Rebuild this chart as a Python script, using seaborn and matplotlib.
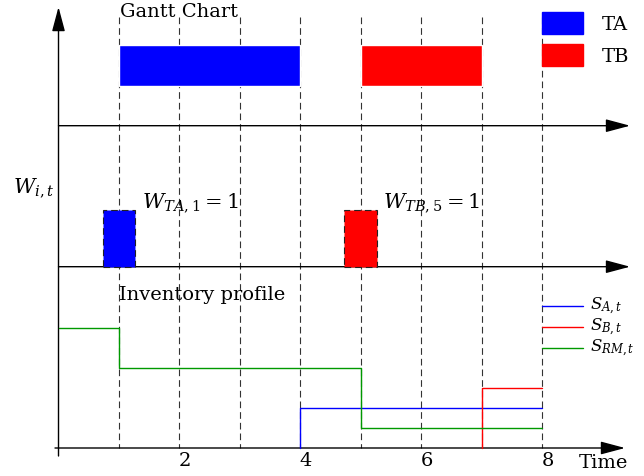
import numpy as np
import pandas as pd
import matplotlib
matplotlib.use("Agg")
import matplotlib.pyplot as plt
from matplotlib.patches import Rectangle
import seaborn as sns

# Gantt schedule
tasks = ["TA", "TB"]
task_start = [1, 5]
task_end = [4, 7]
task_colors = ["blue", "red"]

# batch start indicator W_{i,t}
w_time = [1, 5]
w_value = [1, 1]
w_labels = [r"$W_{TA,1} = 1$", r"$W_{TB,5} = 1$"]

# inventory profiles (step changes: time, level)
inv_series = [r"$S_{A,t}$", r"$S_{B,t}$", r"$S_{RM,t}$"]
inv_time = [[4, 4, 8], [7, 7, 8], [0, 1, 5, 8]]
inv_level = [[0, 2, 2], [0, 3, 3], [6, 4, 1, 1]]
inv_colors = ["blue", "red", "#009900"]

time_ticks = [2, 4, 6, 8]
grid_times = [1, 2, 3, 4, 5, 6, 7, 8]

sns.set_theme(style="white")
plt.rcParams["font.family"] = ["DejaVu Serif"]
plt.rcParams["mathtext.fontset"] = "dejavuserif"
plt.rcParams["text.color"] = "black"
FS = 14

W, H = 644, 477
XLIM = (-0.968, 9.687)
DASH = (0, (6, 3.6))

fig = plt.figure(figsize=(W / 100, H / 100), dpi=100)

# background layer, y measured in pixels from the top
ax = fig.add_axes([0, 0, 1, 1], label="base")
ax.set_xlim(XLIM)
ax.set_ylim(H, 0)
ax.axis("off")

ax.vlines(grid_times, 18, 449, colors="#333333", linestyles=DASH,
          lw=0.8, zorder=1)

# gantt bars
ax.barh(66.2, np.subtract(task_end, task_start), left=task_start, height=41,
        color=task_colors, zorder=2)
for i, (t, c) in enumerate(zip(tasks, task_colors)):
    ax.add_patch(Rectangle((8, 13.3 + 32 * i), 0.678, 21.4, color=c, zorder=2))
    ax.text(8.99, 30 + 32 * i, t, fontsize=FS, va="baseline")

def arrow(x0, y0, x1, y1):
    ax.annotate("", xy=(x1, y1), xytext=(x0, y0),
                arrowprops=dict(arrowstyle="-|>,head_length=0.75,head_width=0.2",
                                mutation_scale=20, lw=1, color="black",
                                shrinkA=0, shrinkB=0), zorder=5)

arrow(0, 457, 0, 8)
arrow(0, 126.7, 9.456, 126.7)
arrow(0, 267.7, 9.456, 267.7)
arrow(-0.058, 449, 9.373, 449)

for t in time_ticks:
    ax.text(t + 0.09, 466, str(t), fontsize=FS, ha="center", va="baseline")
ax.text(8.607, 468.3, "Time", fontsize=FS, va="baseline")
ax.text(1.018, 17.3, "Gantt Chart", fontsize=FS, va="baseline")
ax.text(1.0, 300, "Inventory profile", fontsize=FS, va="baseline")
ax.text(-0.758, 191.7, r"$W_{i,t}$", fontsize=FS + 1, va="baseline")
for t, lab in zip(w_time, w_labels):
    ax.text(t + 0.377, 206.7, lab, fontsize=FS + 1, va="baseline")

# inventory legend
for i, (s, c) in enumerate(zip(inv_series, inv_colors)):
    y = 307.3 + 20.8 * i
    ax.plot([8, 8.67], [y, y], color=c, lw=1, zorder=3)
    ax.text(8.80, y + 3, s, fontsize=12, va="baseline")

# W_{i,t} panel
ax_w = fig.add_axes([0, 0, 1, 1], label="w")
ax_w.bar(w_time, w_value, width=0.54, color=task_colors, edgecolor="#222222",
         linestyle=DASH, lw=0.8)
ax_w.set_xlim(XLIM)
ax_w.set_ylim(-3.691, 4.721)
ax_w.axis("off")
ax_w.patch.set_visible(False)

# inventory panel
rows = []
for s, ts, ls in zip(inv_series, inv_time, inv_level):
    for t, l in zip(ts, ls):
        rows.append({"series": s, "time": t, "level": l})
df = pd.DataFrame(rows)

ax_inv = fig.add_axes([0, 0, 1, 1], label="inv")
sns.lineplot(data=df, x="time", y="level", hue="series", hue_order=inv_series,
             palette=dict(zip(inv_series, inv_colors)), estimator=None,
             sort=False, drawstyle="steps-post", lw=1, legend=False, ax=ax_inv)
ax_inv.set_xlim(XLIM)
ax_inv.set_ylim(-1.4, 22.45)
ax_inv.axis("off")
ax_inv.patch.set_visible(False)

fig.savefig("out.png", dpi=100)
